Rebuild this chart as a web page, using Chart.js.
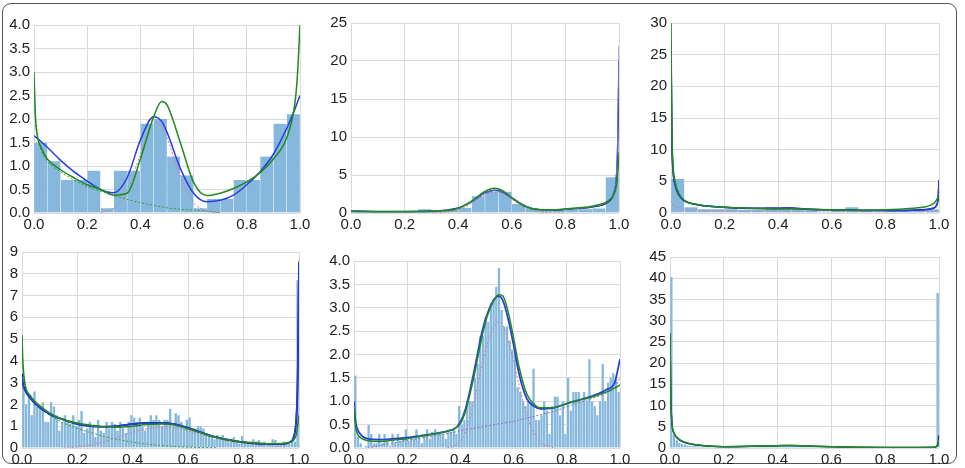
<!DOCTYPE html>
<html><head><meta charset="utf-8">
<script src="https://cdn.jsdelivr.net/npm/chart.js@4.4.1/dist/chart.umd.min.js"></script>
<style>
html,body{margin:0;padding:0;background:#fff;}
#wrap{position:relative;width:965px;height:468px;overflow:hidden;background:#fff;}
#frame{position:absolute;left:2px;top:3px;width:955px;height:461px;border:1.5px solid #555;border-radius:9px;box-sizing:border-box;}
canvas{position:absolute;}
</style></head><body>
<div id="wrap">
<div id="frame"></div>
<canvas id="c1" width="320" height="235" style="left:0px;top:0px"></canvas>
<canvas id="c2" width="320" height="235" style="left:320px;top:0px"></canvas>
<canvas id="c3" width="325" height="235" style="left:640px;top:0px"></canvas>
<canvas id="c4" width="320" height="233" style="left:0px;top:235px"></canvas>
<canvas id="c5" width="320" height="233" style="left:320px;top:235px"></canvas>
<canvas id="c6" width="325" height="233" style="left:640px;top:235px"></canvas>
</div>
<script>
// ---------- shared tick labels ----------
const xTickLabels = ["0.0","0.2","0.4","0.6","0.8","1.0"];

// ---------- Panel 1 ----------
const p1Hist = [1.5,1.1,0.7,0.7,0.9,0.1,0.9,0.9,1.9,2.0,1.2,0.8,0.1,0.3,0.3,0.7,0.7,1.2,1.9,2.1];
const p1X     = [0,0.005,0.01,0.03,0.05,0.1,0.15,0.2,0.25,0.3,0.35,0.4,0.45,0.48,0.5,0.55,0.6,0.65,0.7,0.75,0.8,0.85,0.9,0.95,0.98,0.99,1.0];
const p1Green = [3.0,2.1,1.75,1.35,1.15,0.92,0.75,0.6,0.5,0.38,0.42,1.15,2.05,2.37,2.3,1.5,0.65,0.37,0.42,0.52,0.66,0.86,1.15,1.6,2.3,2.9,4.0];
const p1Blue  = [1.65,1.62,1.6,1.5,1.4,1.12,0.88,0.68,0.5,0.43,0.75,1.55,2.05,1.95,1.72,0.95,0.42,0.24,0.27,0.38,0.6,0.88,1.25,1.8,2.2,2.35,2.5];
const p1PinkDot  = [null,null,null,null,null,null,null,null,0.01,0.1,0.45,1.25,1.93,1.85,1.6,0.78,0.22,0.04,0,null,null,null,null,null,null,null,null];
const p1GreenDot = [2.9,2.0,1.7,1.3,1.1,0.88,0.7,0.56,0.46,0.37,0.29,0.22,0.16,0.13,0.11,0.08,0.06,0.04,0.01,null,null,null,null,null,null,null,null];

// ---------- Panel 2 ----------
const p2Hist = [0.2,0.2,0.2,0.2,0.2,0.5,0.2,0.4,0.7,2.2,2.8,2.8,1.2,0.6,0.3,0.4,0.4,0.5,0.6,4.7];
const p2X     = [0,0.1,0.2,0.3,0.35,0.4,0.45,0.5,0.535,0.57,0.6,0.65,0.7,0.75,0.8,0.85,0.9,0.95,0.97,0.98,0.99,0.995,1.0];
const p2Navy  = [0.3,0.2,0.2,0.25,0.35,0.65,1.5,2.65,3.0,2.7,2.0,0.9,0.45,0.38,0.48,0.6,0.8,1.25,1.8,2.5,4.5,8.5,20];
const p2Blue  = [0.3,0.2,0.2,0.25,0.35,0.62,1.45,2.6,2.95,2.7,2.0,0.95,0.47,0.4,0.5,0.62,0.82,1.3,1.9,2.7,5.0,10,22];
const p2Green = [0.2,0.15,0.15,0.2,0.3,0.6,1.55,2.85,3.25,2.85,2.0,0.85,0.42,0.4,0.52,0.68,0.9,1.4,1.9,2.4,3.5,5.0,8.0];
const p2PinkDot = [null,null,null,0,0.1,0.35,1.3,2.4,2.75,2.5,1.8,0.7,0.15,0.02,0,null,null,null,null,null,null,null,null];

// ---------- Panel 3 ----------
const p3Hist = [5.4,0.9,0.6,0.6,0.6,0.5,0.5,0.9,0.6,0.6,0.5,0.2,0.5,0.9,0.5,0.2,0.4,0.4,0.5,0.6];
const p3X     = [0,0.003,0.007,0.015,0.03,0.05,0.1,0.2,0.3,0.4,0.45,0.5,0.6,0.7,0.8,0.9,0.95,0.98,0.99,0.997,1.0];
const p3Green = [30,14,8,5,3.0,2.0,1.3,0.9,0.75,0.65,0.65,0.6,0.5,0.45,0.5,0.75,1.0,1.5,2.0,2.6,3.0];
const p3Navy  = [26,12,7,4.5,2.8,1.9,1.3,0.9,0.75,0.75,0.8,0.65,0.5,0.42,0.4,0.45,0.55,0.8,1.2,2.5,5.2];
const p3Blue  = [27,12.5,7.2,4.6,2.9,1.95,1.3,0.88,0.72,0.72,0.75,0.62,0.48,0.4,0.38,0.43,0.52,0.75,1.1,2.4,5.0];
const p3PinkDot = [2.0,1.5,1.2,1.0,0.8,0.6,0.45,0.35,0.3,0.3,0.3,0.3,0.3,0.3,0.3,0.3,0.3,0.3,0.3,0.3,0.3];

// ---------- Panel 4 ----------
const p4Hist = [2.8,2.0,2.4,1.5,2.6,1.9,1.9,2.1,1.2,1.2,
                2.1,1.9,1.5,0.8,1.2,1.5,1.2,1.1,1.5,1.0,
                1.3,1.7,0.7,0.9,1.2,1.0,0.5,1.3,0.8,0.7,
                1.2,0.9,1.2,1.1,0.8,1.2,0.9,0.7,1.2,1.5,
                1.4,1.2,1.4,1.0,0.8,1.2,1.5,1.3,1.5,1.3,
                1.0,1.3,1.3,1.8,1.0,1.6,1.5,1.2,0.9,1.3,
                1.4,0.8,0.9,1.0,1.0,0.9,0.6,0.6,0.5,0.4,
                0.6,0.5,0.6,0.4,0.4,0.3,0.5,0.3,0.2,0.55,
                0.3,0.2,0.3,0.4,0.3,0.37,0.2,0.3,0.1,0.2,
                0.4,0.37,0.2,0.2,0.3,0.2,0.2,0.3,0.3,7.7];
const p4X     = [0,0.003,0.01,0.03,0.05,0.1,0.15,0.2,0.25,0.3,0.35,0.4,0.45,0.5,0.55,0.6,0.65,0.7,0.75,0.8,0.85,0.9,0.95,0.97,0.98,0.99,0.995,1.0];
const p4Green = [5.2,4.0,3.0,2.4,2.1,1.6,1.3,1.15,1.05,0.97,0.95,1.0,1.08,1.1,1.05,0.88,0.68,0.48,0.36,0.28,0.23,0.2,0.22,0.28,0.35,0.6,1.0,1.5];
const p4Navy  = [3.4,3.0,2.7,2.3,2.0,1.55,1.3,1.1,1.0,0.98,1.02,1.1,1.15,1.15,1.1,0.92,0.7,0.5,0.36,0.26,0.2,0.18,0.2,0.28,0.45,1.3,3.0,8.5];
const p4Blue  = [3.3,2.95,2.65,2.28,2.0,1.55,1.3,1.1,1.0,0.98,1.02,1.1,1.14,1.15,1.1,0.93,0.71,0.5,0.37,0.27,0.2,0.18,0.2,0.3,0.5,1.4,3.2,8.6];
const p4PinkDot  = [null,null,null,null,null,null,0,0.05,0.15,0.3,0.5,0.72,0.88,0.96,0.94,0.8,0.62,0.45,0.3,0.22,0.15,0.1,0.05,null,null,null,null,null];
const p4GreenDot = [5.0,3.8,2.9,2.3,2.0,1.5,1.15,0.9,0.7,0.52,0.38,0.27,0.18,0.12,0.07,0.04,0.02,0.01,null,null,null,null,null,null,null,null,null,null];

// ---------- Panel 5 ----------
const p5Hist = [1.55,0.25,0.1,0.0,0.05,0.5,0.3,0.1,0.1,0.3,
                0.1,0.3,0.15,0.05,0.3,0.1,0.3,0.15,0.2,0.4,
                0.15,0.2,0.2,0.4,0.25,0.1,0.3,0.4,0.2,0.35,
                0.4,0.3,0.35,0.3,0.2,0.35,0.35,0.4,0.3,0.9,
                0.5,0.6,1.0,1.0,1.0,1.5,1.8,2.4,2.4,2.8,
                2.7,3.1,3.2,3.45,3.85,2.95,2.6,2.6,2.3,2.1,
                2.0,1.3,1.2,1.0,0.9,1.0,1.0,1.7,0.6,0.6,
                0.7,1.0,0.8,0.3,0.9,1.1,1.1,0.7,1.0,0.3,
                1.5,0.8,1.2,1.2,1.2,1.0,1.2,1.0,1.9,1.0,
                0.9,0.7,1.0,1.8,1.0,1.4,1.5,1.6,1.5,1.2];
const p5X     = [0,0.005,0.01,0.03,0.05,0.1,0.15,0.2,0.25,0.3,0.35,0.38,0.4,0.42,0.45,0.48,0.5,0.53,0.545,0.56,0.58,0.6,0.62,0.65,0.68,0.7,0.75,0.8,0.85,0.9,0.95,0.98,1.0];
const p5Navy  = [1.0,0.6,0.45,0.26,0.2,0.18,0.2,0.22,0.26,0.3,0.36,0.42,0.55,0.85,1.6,2.45,2.85,3.2,3.25,3.15,2.75,2.2,1.6,1.05,0.88,0.84,0.86,0.95,1.03,1.12,1.25,1.4,1.9];
const p5Green = [0.9,0.5,0.35,0.2,0.16,0.14,0.17,0.2,0.25,0.3,0.36,0.42,0.52,0.8,1.5,2.35,2.8,3.2,3.28,3.25,2.9,2.35,1.75,1.15,0.92,0.86,0.86,0.95,1.03,1.1,1.2,1.28,1.35];
const p5PinkDot   = [null,null,null,null,null,null,null,null,null,null,0,0.05,0.15,0.35,0.95,1.75,2.2,2.62,2.7,2.62,2.3,1.85,1.35,0.7,0.28,0.12,0.01,null,null,null,null,null,null];
const p5PurpleDot = [null,null,null,null,0,0.06,0.11,0.16,0.21,0.26,0.31,0.34,0.37,0.39,0.42,0.45,0.47,0.5,0.52,0.53,0.55,0.57,0.6,0.64,0.68,0.71,0.78,0.88,0.98,1.07,1.18,1.3,1.5];

// ---------- Panel 6 ----------
const p6Hist = [40.3,3.2,1.8,1.2,1.0,0.8,0.6,0.5,0.5,0.4,
                0.4,0.3,0.3,0.3,0.3,0.2,0.2,0.2,0.3,0.2,
                0.3,0.3,0.4,0.3,0.4,0.4,0.5,0.4,0.5,0.5,
                0.5,0.6,0.5,0.6,0.6,0.5,0.6,0.6,0.5,0.6,
                0.6,0.5,0.6,0.6,0.7,0.6,0.5,0.6,0.6,0.5,
                0.5,0.5,0.4,0.5,0.4,0.4,0.3,0.3,0.3,0.2,
                0.2,0.2,0.2,0.1,0.1,0.1,0.1,0.1,0.1,0.1,
                0.1,0.1,0.1,0.1,0.1,0.1,0.1,0.1,0.1,0.1,
                0.1,0.1,0.1,0.1,0.1,0.1,0.1,0.1,0.1,0.1,
                0.1,0.1,0.1,0.1,0.1,0.1,0.1,0.2,0.2,36.5];
const p6X     = [0,0.003,0.007,0.015,0.03,0.05,0.1,0.15,0.2,0.3,0.4,0.45,0.5,0.6,0.7,0.8,0.9,0.97,0.99,0.997,1.0];
const p6Navy  = [27,12,6,3.5,2.2,1.4,0.7,0.4,0.3,0.4,0.55,0.6,0.5,0.3,0.15,0.1,0.1,0.15,0.4,1.2,3.0];
const p6Green = [27,12.5,6.2,3.6,2.3,1.5,0.75,0.45,0.32,0.42,0.55,0.58,0.5,0.3,0.15,0.1,0.1,0.12,0.3,0.8,2.0];

// ---------- styles ----------
const BAR = 'rgba(126,180,218,0.95)';
const GREEN = '#1f8a1f', BLUE = '#2a3ee0', NAVY = '#0a1a80', PINK = '#c77fa8', PURPLE = '#8a6ac8', GDOT = '#3a9a3a';

function histData(h){ return h.map((v,i)=>({x:(i+0.5)/h.length, y:v})); }
function lineData(xs, ys){ return xs.map((x,i)=>({x:x, y:ys[i]})); }
function solid(xs, ys, color, w){ return {type:'line', data:lineData(xs,ys), borderColor:color, borderWidth:w||1.5, pointRadius:0, cubicInterpolationMode:'monotone', spanGaps:false, order:1, fill:false}; }
function dotted(xs, ys, color){ return {type:'line', data:lineData(xs,ys), borderColor:color, borderWidth:1, borderDash:[2,2], pointRadius:0, cubicInterpolationMode:'monotone', spanGaps:false, order:2, fill:false}; }

function panel(id, cfg){
  const ds = [{type:'bar', data:histData(cfg.hist), backgroundColor:BAR, borderColor:'rgba(255,255,255,0.55)',
               borderWidth:{left:0.5,right:0.5,top:0,bottom:0}, barPercentage:1, categoryPercentage:1, grouped:false, order:10}]
             .concat(cfg.lines);
  new Chart(document.getElementById(id), {
    type:'bar',
    data:{datasets:ds},
    options:{
      responsive:false, animation:false, devicePixelRatio:1,
      events:[],
      layout:{padding:{top:cfg.top, right:cfg.right, left:0, bottom:0}},
      plugins:{legend:{display:false}, tooltip:{enabled:false}},
      scales:{
        x:{type:'linear', min:0, max:1, offset:false,
           grid:{color:'#dadada', drawTicks:false, offset:false}, border:{display:false},
           ticks:{stepSize:0.2, padding:3, color:'#222', maxRotation:0, autoSkip:false,
                  font:{family:'Liberation Sans, Arial, sans-serif', size:15},
                  callback:(v)=>xTickLabels[Math.round(v*5)]},
           afterFit:(s)=>{s.height=cfg.xh;}},
        y:{type:'linear', min:0, max:cfg.ymax, 
           grid:{color:'#dadada', drawTicks:false}, border:{display:false},
           ticks:{stepSize:cfg.ystep, padding:4, color:'#222',
                  font:{family:'Liberation Sans, Arial, sans-serif', size:15},
                  callback:(v)=>cfg.dec? Number(v).toFixed(1) : String(Math.round(v))},
           afterFit:(s)=>{s.width=cfg.yw;}}
      }
    }
  });
}

panel('c1',{hist:p1Hist, ymax:4, ystep:0.5, dec:true, top:25, right:20, yw:34, xh:22, lines:[
  dotted(p1X,p1GreenDot,GDOT), dotted(p1X,p1PinkDot,PINK),
  solid(p1X,p1Green,GREEN), solid(p1X,p1Blue,BLUE)]});
panel('c2',{hist:p2Hist, ymax:25, ystep:5, dec:false, top:23, right:21, yw:31, xh:22, lines:[
  dotted(p2X,p2PinkDot,PINK),
  solid(p2X,p2Green,GREEN), solid(p2X,p2Blue,'#6f78f0',1), solid(p2X,p2Navy,NAVY)]});
panel('c3',{hist:p3Hist, ymax:30, ystep:5, dec:false, top:23, right:26, yw:31, xh:22, lines:[
  dotted(p3X,p3PinkDot,PINK),
  solid(p3X,p3Green,GREEN), solid(p3X,p3Blue,BLUE), solid(p3X,p3Navy,NAVY)]});
panel('c4',{hist:p4Hist, ymax:9, ystep:1, dec:false, top:17, right:21, yw:22, xh:20, lines:[
  dotted(p4X,p4GreenDot,GDOT), dotted(p4X,p4PinkDot,PINK),
  solid(p4X,p4Green,GREEN), solid(p4X,p4Blue,BLUE), solid(p4X,p4Navy,NAVY,1.8)]});
panel('c5',{hist:p5Hist, ymax:4, ystep:0.5, dec:true, top:26, right:20, yw:34, xh:20, lines:[
  dotted(p5X,p5PurpleDot,PURPLE), dotted(p5X,p5PinkDot,PINK),
  solid(p5X,p5Green,GREEN), solid(p5X,p5Navy,BLUE,1.8)]});
panel('c6',{hist:p6Hist, ymax:45, ystep:5, dec:false, top:22, right:26, yw:30, xh:20, lines:[
  solid(p6X,p6Green,GREEN), solid(p6X,p6Navy,NAVY)]});
</script>
</body></html>
